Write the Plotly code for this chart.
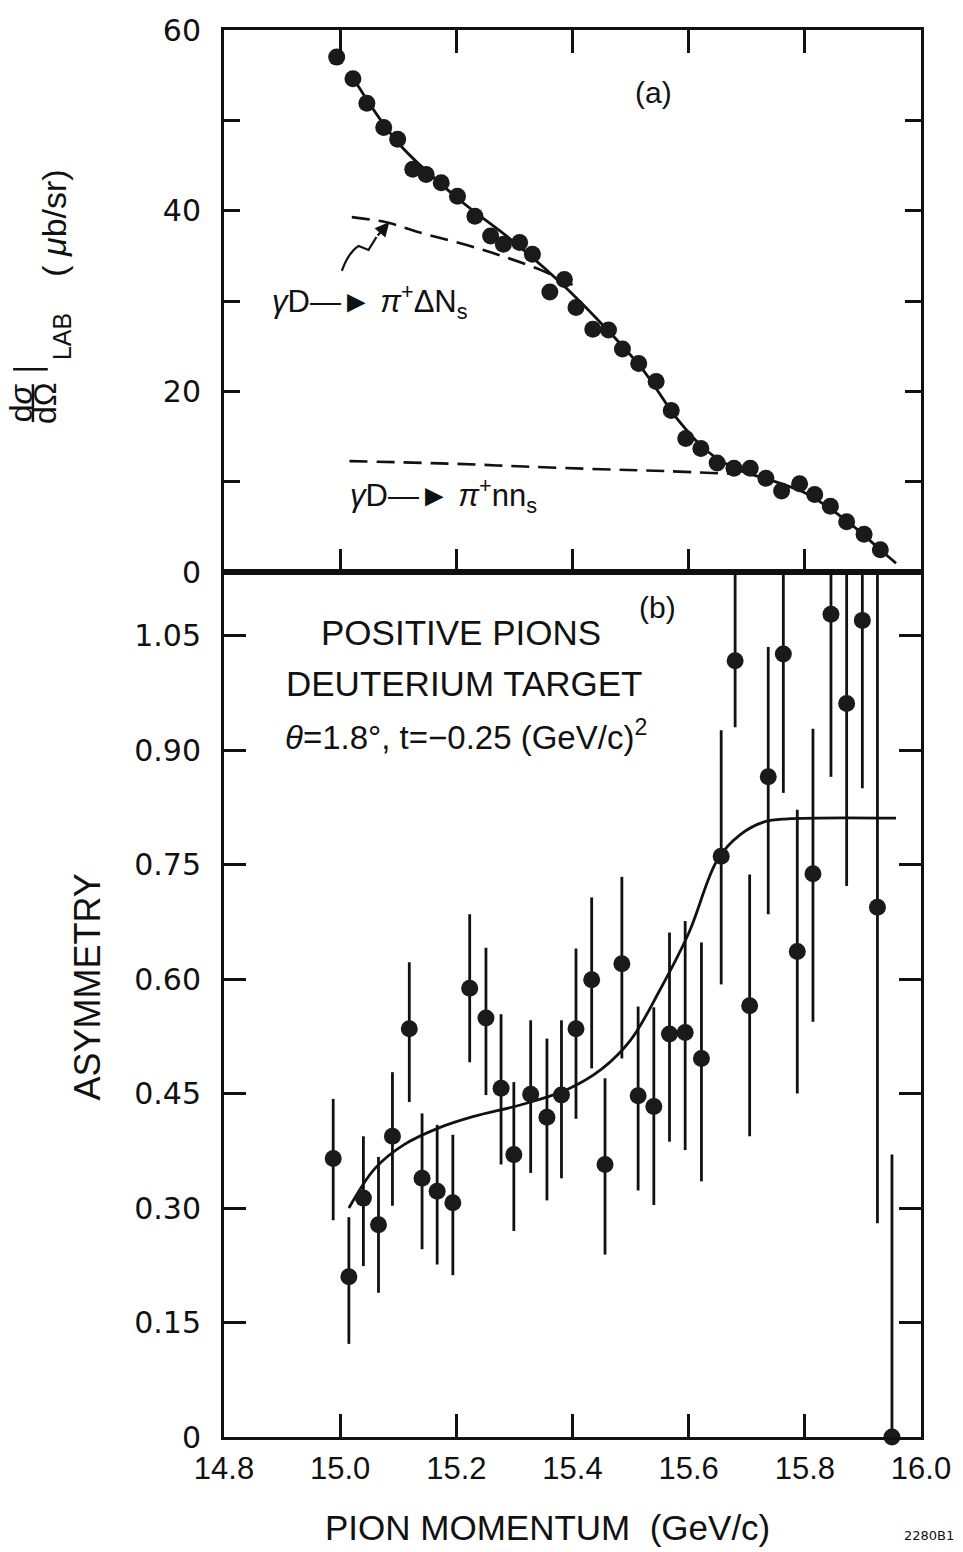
import plotly.graph_objects as go

# ---------------- data ----------------
# panel (a): differential cross section
a_x = [14.994, 15.022, 15.046, 15.075, 15.099, 15.125, 15.148, 15.174, 15.202, 15.232,
       15.259, 15.281, 15.309, 15.331, 15.361, 15.386, 15.406, 15.435, 15.462, 15.486,
       15.514, 15.544, 15.570, 15.595, 15.621, 15.649, 15.678, 15.706, 15.733, 15.760,
       15.791, 15.817, 15.844, 15.872, 15.902, 15.930]
a_y = [57.0, 54.6, 51.9, 49.2, 47.9, 44.6, 44.0, 43.1, 41.6, 39.4,
       37.2, 36.3, 36.5, 35.2, 31.0, 32.4, 29.3, 26.9, 26.8, 24.7,
       23.1, 21.1, 17.9, 14.8, 13.7, 12.1, 11.5, 11.5, 10.4, 9.0,
       9.8, 8.6, 7.3, 5.6, 4.2, 2.5]

# solid fit curve through panel (a)
a_fit_x = [15.028, 15.10, 15.20, 15.30, 15.38, 15.45, 15.52, 15.58, 15.63, 15.68,
           15.75, 15.80, 15.87, 15.93, 15.957]
a_fit_y = [54.1, 47.5, 41.5, 36.5, 32.0, 27.5, 22.5, 17.0, 13.5, 11.5,
           10.0, 8.8, 5.8, 2.5, 1.0]

# dashed curve  gamma D -> pi+ Delta N_s
dN_x = [15.020, 15.081, 15.137, 15.218, 15.283, 15.347, 15.400]
dN_y = [39.3, 38.7, 37.6, 36.2, 34.9, 33.4, 31.8]

# dashed curve  gamma D -> pi+ n n_s
nn_x = [15.016, 15.20, 15.317, 15.45, 15.56, 15.670]
nn_y = [12.3, 12.0, 11.7, 11.4, 11.2, 10.9]

# panel (b): asymmetry
b_x = [14.988, 15.015, 15.040, 15.066, 15.090, 15.119, 15.141, 15.167, 15.194, 15.223,
       15.251, 15.277, 15.299, 15.328, 15.356, 15.381, 15.406, 15.433, 15.456, 15.485,
       15.513, 15.540, 15.567, 15.594, 15.622, 15.656, 15.680, 15.705, 15.737, 15.763,
       15.787, 15.814, 15.845, 15.872, 15.899, 15.925, 15.950]
b_y = [0.365, 0.210, 0.313, 0.278, 0.394, 0.535, 0.339, 0.322, 0.307, 0.588,
       0.549, 0.457, 0.370, 0.449, 0.419, 0.448, 0.535, 0.599, 0.357, 0.620,
       0.447, 0.433, 0.528, 0.530, 0.496, 0.761, 1.017, 0.565, 0.865, 1.026,
       0.636, 0.738, 1.078, 0.961, 1.070, 0.694, 0.0]
b_err_up = [0.078, 0.078, 0.081, 0.089, 0.084, 0.087, 0.085, 0.087, 0.089, 0.097,
            0.092, 0.097, 0.095, 0.097, 0.103, 0.098, 0.105, 0.108, 0.113, 0.114,
            0.117, 0.130, 0.133, 0.146, 0.152, 0.165, 0.116, 0.172, 0.170, 0.107,
            0.186, 0.190, 0.055, 0.172, 0.063, 0.439, 0.370]
b_err_dn = [0.081, 0.088, 0.089, 0.089, 0.091, 0.096, 0.093, 0.096, 0.095, 0.097,
            0.101, 0.100, 0.100, 0.103, 0.109, 0.109, 0.118, 0.116, 0.118, 0.124,
            0.124, 0.129, 0.141, 0.154, 0.161, 0.168, 0.087, 0.171, 0.180, 0.182,
            0.186, 0.194, 0.213, 0.239, 0.220, 0.414, 0.0]

# solid curve through panel (b)
b_fit_x = [15.015, 15.06, 15.11, 15.17, 15.23, 15.31, 15.39, 15.45, 15.50, 15.55,
           15.60, 15.65, 15.69, 15.73, 15.77, 15.957]
b_fit_y = [0.300, 0.352, 0.383, 0.405, 0.420, 0.435, 0.455, 0.482, 0.520, 0.585,
           0.660, 0.757, 0.790, 0.806, 0.810, 0.811]

x_ticks = [14.8, 15.0, 15.2, 15.4, 15.6, 15.8, 16.0]
x_ticktext = ["14.8", "15.0", "15.2", "15.4", "15.6", "15.8", "16.0"]
ya_ticks = [0, 10, 20, 30, 40, 50, 60]
ya_ticktext = ["0", "", "20", "", "40", "", "60"]
yb_ticks = [0, 0.15, 0.30, 0.45, 0.60, 0.75, 0.90, 1.05]
yb_ticktext = ["0", "0.15", "0.30", "0.45", "0.60", "0.75", "0.90", "1.05"]

# ---------------- layout geometry ----------------
W, H = 963, 1552
L, R, T, B = 224, 928, 23, 1437
SPLIT = 568
f = (B - SPLIT) / (B - T)


def px(x):
    return (x - L) / (R - L)


def py(y):
    return (B - y) / (B - T)


FONT = "Liberation Sans, Arial, sans-serif"
BLACK = "#111111"

fig = go.Figure()

# panel (a)
fig.add_trace(go.Scatter(x=a_fit_x, y=a_fit_y, mode="lines", xaxis="x2", yaxis="y2",
                         line=dict(color=BLACK, width=2.8, shape="spline"), showlegend=False))
fig.add_trace(go.Scatter(x=dN_x, y=dN_y, mode="lines", xaxis="x2", yaxis="y2",
                         line=dict(color=BLACK, width=2.6, shape="spline", dash="18px,9px"),
                         showlegend=False))
fig.add_trace(go.Scatter(x=nn_x, y=nn_y, mode="lines", xaxis="x2", yaxis="y2",
                         line=dict(color=BLACK, width=2.6, shape="spline", dash="18px,9px"),
                         showlegend=False))
fig.add_trace(go.Scatter(x=a_x, y=a_y, mode="markers", xaxis="x2", yaxis="y2",
                         marker=dict(color="#1a1a1a", size=17, line=dict(width=0)),
                         showlegend=False, cliponaxis=False))

# panel (b)
fig.add_trace(go.Scatter(x=b_fit_x, y=b_fit_y, mode="lines", xaxis="x", yaxis="y",
                         line=dict(color=BLACK, width=2.8, shape="spline"), showlegend=False))
fig.add_trace(go.Scatter(x=b_x, y=b_y, mode="markers", xaxis="x", yaxis="y",
                         marker=dict(color="#1a1a1a", size=17, line=dict(width=0)),
                         error_y=dict(type="data", symmetric=False, array=b_err_up,
                                      arrayminus=b_err_dn, color=BLACK, thickness=2.8, width=0),
                         showlegend=False, cliponaxis=False))

axis_common = dict(showline=True, linecolor=BLACK, linewidth=3, showgrid=False,
                   zeroline=False, ticks="inside", tickcolor=BLACK, tickwidth=2.5)

fig.update_layout(
    width=W, height=H,
    margin=dict(l=L, r=W - R, t=T, b=H - B),
    paper_bgcolor="white", plot_bgcolor="white",
    font=dict(family=FONT, color=BLACK),
    xaxis=dict(domain=[0, 1], range=[14.8, 16.0], anchor="y", tickvals=x_ticks,
               ticktext=x_ticktext, ticklen=23, mirror=True,
               tickfont=dict(size=31, family=FONT), ticklabelstandoff=2, **axis_common),
    yaxis=dict(domain=[0, f], range=[0, 1.133], anchor="x", tickvals=yb_ticks,
               ticktext=yb_ticktext, ticklen=22, mirror="ticks",
               tickfont=dict(size=30, family="DejaVu Sans, sans-serif"),
               ticklabelstandoff=14, **axis_common),
    xaxis2=dict(domain=[0, 1], range=[14.8, 16.0], anchor="y2", matches="x",
                tickvals=x_ticks, showticklabels=False, ticklen=23, mirror="ticks",
                **axis_common),
    yaxis2=dict(domain=[f, 1], range=[0, 60], anchor="x2", tickvals=ya_ticks,
                ticktext=ya_ticktext, ticklen=16, mirror="ticks",
                tickfont=dict(size=30, family="DejaVu Sans, sans-serif"),
                ticklabelstandoff=14, **axis_common),
)


def note(text, x, y, size=30, angle=0, family=FONT, xanchor="center"):
    fig.add_annotation(text=text, x=px(x), y=py(y), xref="paper", yref="paper",
                       showarrow=False, textangle=angle, xanchor=xanchor, yanchor="middle",
                       font=dict(size=size, family=family, color=BLACK))


# panel labels and texts
note("(a)", 658, 86, size=30)
note("(b)", 662, 603, size=30)
note("POSITIVE PIONS", 463, 628, size=35)
note("DEUTERIUM TARGET", 467, 680, size=35)
note("<i>θ</i>=1.8°, t=−0.25 (GeV/c)<sup>2</sup>", 468, 732, size=33)
note("<i>γ</i>D—►<i> π</i><sup>+</sup>ΔN<sub>s</sub>", 270, 296, size=31, xanchor="left")
note("<i>γ</i>D—►<i> π</i><sup>+</sup>nn<sub>s</sub>", 349, 491, size=31, xanchor="left")

# axis titles
note("PION MOMENTUM  (GeV/c)", 551, 1528, size=35)
note("ASYMMETRY", 86, 985, size=36, angle=-90)
note("2280B1", 936, 1536, size=13, family="DejaVu Sans, sans-serif")

# y title for panel (a): d sigma / d Omega |_LAB (mu b/sr)
note("d<i>σ</i>", 19, 398, size=32, angle=-90)
note("dΩ", 43, 398, size=32, angle=-90)
note("LAB", 61, 331, size=25, angle=-90)
note("( <i>μ</i>b/sr)", 52, 217, size=34, angle=-90)
fig.add_shape(type="line", xref="paper", yref="paper", x0=px(31), x1=px(31),
              y0=py(379), y1=py(417), line=dict(color=BLACK, width=2.5))
fig.add_shape(type="line", xref="paper", yref="paper", x0=px(11), x1=px(46),
              y0=py(364), y1=py(364), line=dict(color=BLACK, width=2.5))

# squiggly arrow pointing to the dashed curve
fig.add_shape(type="path", xref="paper", yref="paper",
              path=(f"M {px(343)} {py(265)} Q {px(350)} {py(246)} {px(360)} {py(240)} "
                    f"L {px(370)} {py(244)} L {px(378)} {py(231)}"),
              line=dict(color=BLACK, width=2.2))
fig.add_annotation(x=px(391), y=py(216), xref="paper", yref="paper", showarrow=True,
                   ax=-13, ay=15, arrowhead=2, arrowsize=1.3, arrowwidth=2.2,
                   arrowcolor=BLACK, text="")

fig.write_html("out.html")
